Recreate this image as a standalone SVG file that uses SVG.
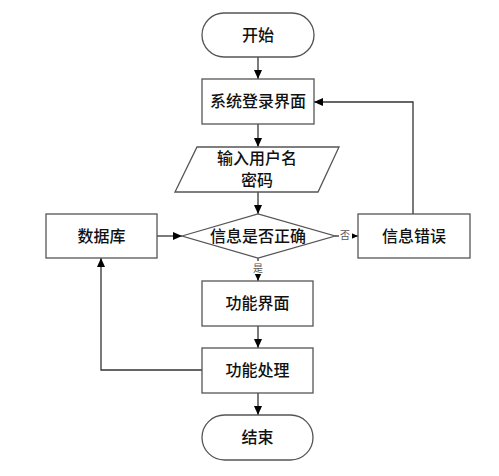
<svg xmlns="http://www.w3.org/2000/svg" width="499" height="476" viewBox="0 0 499 476">
<defs>
<marker id="ah" markerWidth="10" markerHeight="10" refX="9" refY="5" orient="auto" markerUnits="userSpaceOnUse">
<path d="M0,1 L9,5 L0,9 Z" fill="#000"/>
</marker>
<style>
.s{fill:#fff;stroke:#555;stroke-width:1.3}
.t{font-family:"Liberation Serif","Noto Sans CJK SC",serif;font-size:16px;font-weight:500;fill:#111;text-anchor:middle;dominant-baseline:central}
.l{font-family:"Liberation Serif","Noto Sans CJK SC",serif;font-size:10px;fill:#555;text-anchor:middle;dominant-baseline:central}
.c{fill:none;stroke:#333;stroke-width:1.3}
</style>
</defs>
<rect width="499" height="476" fill="#fff"/>
<g id="connectors">
<line class="c" x1="258" y1="57" x2="258" y2="79" marker-end="url(#ah)"/>
<line class="c" x1="258" y1="124" x2="258" y2="147" marker-end="url(#ah)"/>
<line class="c" x1="258" y1="192" x2="258" y2="214" marker-end="url(#ah)"/>
<line class="c" x1="258" y1="258" x2="258" y2="281" marker-end="url(#ah)"/>
<line class="c" x1="258" y1="326" x2="258" y2="348" marker-end="url(#ah)"/>
<line class="c" x1="258" y1="393" x2="258" y2="415" marker-end="url(#ah)"/>
<line class="c" x1="157" y1="236" x2="182" y2="236" marker-end="url(#ah)"/>
<line class="c" x1="335" y1="236" x2="358" y2="236" marker-end="url(#ah)"/>
<polyline class="c" points="413,214 413,102 314,102" marker-end="url(#ah)"/>
<polyline class="c" points="202,370 101,370 101,258" marker-end="url(#ah)"/>
<rect x="251" y="261" width="14" height="13" fill="#fff"/>
<text class="l" x="258" y="268">是</text>
<rect x="339" y="229" width="13" height="13" fill="#fff"/>
<text class="l" x="345" y="235">否</text>
</g>
<g id="start">
<rect class="s" x="202" y="13" width="112" height="44" rx="22" ry="22"/>
<text class="t" x="258" y="35">开始</text>
</g>
<g id="login">
<rect class="s" x="202" y="79" width="112" height="45"/>
<text class="t" x="258" y="101.5">系统登录界面</text>
</g>
<g id="input">
<polygon class="s" points="197,147 339,147 318,192 175,192"/>
<text class="t" x="257" y="158">输入用户名</text>
<text class="t" x="257" y="180">密码</text>
</g>
<g id="check">
<polygon class="s" points="182,236 258,214 335,236 258,258"/>
<text class="t" x="258" y="236">信息是否正确</text>
</g>
<g id="db">
<rect class="s" x="46" y="214" width="111" height="44"/>
<text class="t" x="101.5" y="236">数据库</text>
</g>
<g id="error">
<rect class="s" x="358" y="214" width="112" height="44"/>
<text class="t" x="414" y="236">信息错误</text>
</g>
<g id="func">
<rect class="s" x="202" y="281" width="111" height="45"/>
<text class="t" x="257.5" y="303.5">功能界面</text>
</g>
<g id="process">
<rect class="s" x="202" y="348" width="111" height="45"/>
<text class="t" x="257.5" y="370.5">功能处理</text>
</g>
<g id="end">
<rect class="s" x="202" y="415" width="111" height="45" rx="22.5" ry="22.5"/>
<text class="t" x="257.5" y="437.5">结束</text>
</g>
</svg>
